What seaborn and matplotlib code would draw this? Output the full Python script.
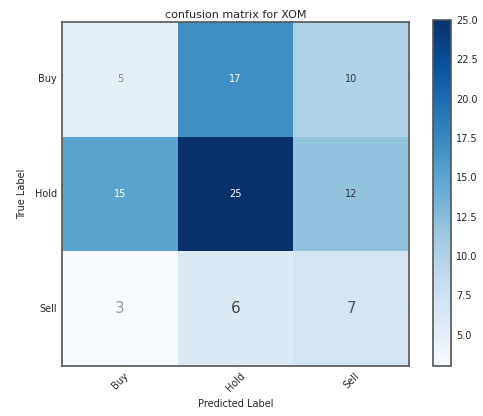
import numpy as np
import pandas as pd
import matplotlib
matplotlib.use("Agg")
import matplotlib.pyplot as plt
import seaborn as sns

classes = ["Buy", "Hold", "Sell"]
row_buy = [5, 17, 10]
row_hold = [15, 25, 12]
row_sell = [3, 6, 7]
cbar_ticks = [5.0, 7.5, 10.0, 12.5, 15.0, 17.5, 20.0, 22.5, 25.0]

cm = pd.DataFrame([row_buy, row_hold, row_sell], index=classes, columns=classes)

sns.set_style("white")
plt.rcParams['font.family'] = ['DejaVu Sans']

fig = plt.figure(figsize=(4.83, 4.16), dpi=100)
ax = fig.add_axes([62/483, 1-366/416, 347/483, 344/416])
cax = fig.add_axes([433/483, 1-366/416, 18/483, 346/416])

sns.heatmap(cm, cmap="Blues", annot=True, fmt="d", ax=ax, cbar_ax=cax,
            linewidths=0, annot_kws={"fontsize": 7})

# annotation styling
text_colors = [["#888888", "white", "#333333"],
               ["white", "white", "#333333"],
               ["#999999", "#444444", "#555555"]]
for t in ax.texts:
    x, y = t.get_position()
    r, c = int(y), int(x)
    t.set_color(text_colors[r][c])
    if r == 2:
        t.set_fontsize(11)

for side in ["top", "bottom", "left", "right"]:
    ax.spines[side].set_visible(True)
    ax.spines[side].set_color("#555555")
    ax.spines[side].set_linewidth(1.2)

ax.set_title("confusion matrix for XOM", fontsize=8, pad=3)
ax.set_xlabel("Predicted Label", fontsize=7, labelpad=4)
ax.set_ylabel("True Label", fontsize=7, labelpad=6)
ax.set_xticklabels(classes, rotation=45, fontsize=7)
ax.set_yticklabels(classes, rotation=0, fontsize=7)
ax.tick_params(axis="both", which="both", direction="in", length=3, width=0.8,
               color="#555555", top=True, right=True, bottom=True, left=True,
               labeltop=False, labelright=False)

cb = ax.collections[0].colorbar
cb.set_ticks(cbar_ticks)
cb.ax.tick_params(labelsize=7, direction="in", length=3, width=0.8, color="#555555")
cb.outline.set_visible(True)
cb.outline.set_edgecolor("#555555")
cb.outline.set_linewidth(1.2)

fig.savefig("out.png", dpi=100)
